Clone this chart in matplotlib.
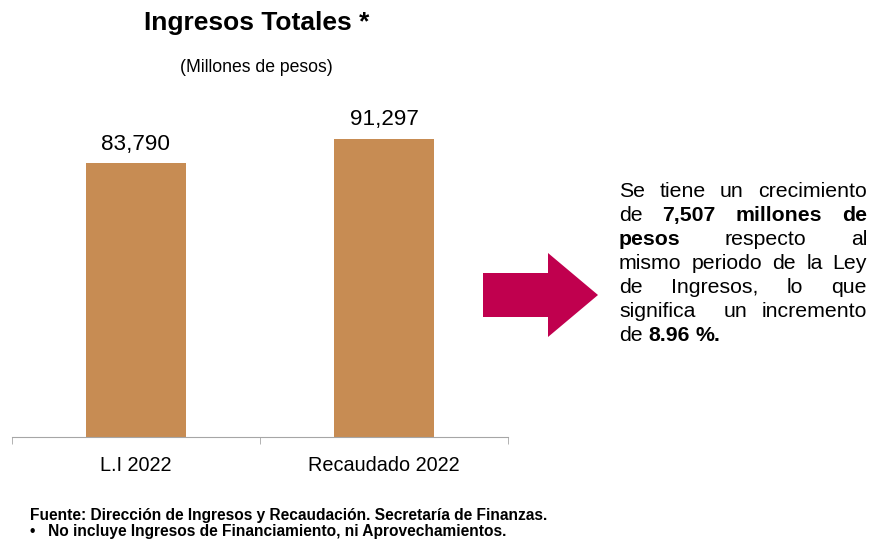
import matplotlib
matplotlib.use('Agg')
import matplotlib.pyplot as plt
from matplotlib.patches import Polygon

# datos
categorias = ['L.I 2022', 'Recaudado 2022']
valores = [83790, 91297]
etiquetas = ['83,790', '91,297']

titulo = 'Ingresos Totales *'
subtitulo = '(Millones de pesos)'
fuente = 'Fuente: Dirección de Ingresos y Recaudación. Secretaría de Finanzas.'
nota = '•   No incluye Ingresos de Financiamiento, ni Aprovechamientos.'

# texto de la derecha: (palabras, negrita)
lineas = [
    [('Se tiene un crecimiento', False)],
    [('de', False), ('7,507 millones de', True)],
    [('pesos', True), ('respecto al', False)],
    [('mismo periodo de la Ley', False)],
    [('de Ingresos, lo que', False)],
    [('significa  un incremento', False)],
    [('de', False), ('8.96 %.', True)],
]

plt.rcParams['font.family'] = ['Liberation Sans', 'DejaVu Sans']

W, H = 873, 541
fig = plt.figure(figsize=(W / 100, H / 100), dpi=100)


def fx(px):
    return px / W


def fy(py):
    return 1 - py / H


color_barra = '#C78C53'
color_flecha = '#C0004E'
color_eje = '#A6A6A6'

# ejes
ax = fig.add_axes([fx(12), fy(437), fx(508) - fx(12), fy(100) - fy(437)])
x = list(range(len(categorias)))
barras = ax.bar(x, valores, width=0.405, color=color_barra)
ax.set_xlim(-0.5, 1.5)
ax.set_ylim(0, 103150)
for b, t in zip(barras, etiquetas):
    ax.annotate(t, (b.get_x() + b.get_width() / 2, b.get_height()),
                xytext=(0, 6), textcoords='offset points',
                ha='center', va='bottom', fontsize=16.2)

for s in ['top', 'right', 'left']:
    ax.spines[s].set_visible(False)
ax.spines['bottom'].set_color(color_eje)
ax.set_yticks([])
ax.set_xticks(x)
ax.set_xticklabels(categorias, fontsize=14.3)
ax.tick_params(axis='x', which='major', length=0, pad=14)
ax.set_xticks([-0.5, 0.5, 1.5], minor=True)
ax.tick_params(axis='x', which='minor', length=5, color=color_eje, direction='out')

# titulos
fig.text(fx(257), fy(23), titulo, ha='center', va='center', fontsize=19, fontweight='bold')
fig.text(fx(256.5), fy(68), subtitulo, ha='center', va='center', fontsize=12.7)

# pie
fig.text(fx(30), fy(520), fuente, ha='left', va='baseline', fontsize=11.2, fontweight='bold')
fig.text(fx(30), fy(536), nota, ha='left', va='baseline', fontsize=11.2, fontweight='bold')

# flecha
flecha = [(483, 273), (548, 273), (548, 253), (598, 295), (548, 337), (548, 317), (483, 317)]
fig.patches.append(Polygon([(fx(a), fy(b)) for a, b in flecha], closed=True,
                           transform=fig.transFigure, facecolor=color_flecha,
                           edgecolor='none'))

# texto justificado
izq, der = 619, 867
base0, paso = 197, 24
tam = 15.3
r = fig.canvas.get_renderer()


def ancho(palabra, negrita):
    t = fig.text(0, 0, palabra, fontsize=tam, fontweight='bold' if negrita else 'normal')
    w = t.get_window_extent(renderer=r).width if palabra else 0
    t.remove()
    return w


esp = ancho('a a', False) - 2 * ancho('a', False)
for i, linea in enumerate(lineas):
    palabras = []
    for trozo, negrita in linea:
        for p in trozo.split(' '):
            palabras.append((p, negrita, ancho(p, negrita)))
    total = sum(p[2] for p in palabras)
    huecos = len(palabras) - 1
    if i == len(lineas) - 1 or huecos == 0:
        hueco = esp
    else:
        hueco = (der - izq - total) / huecos
    xp = izq
    yb = base0 + i * paso
    for p, negrita, w in palabras:
        if p:
            fig.text(fx(xp), fy(yb), p, ha='left', va='baseline', fontsize=tam,
                     fontweight='bold' if negrita else 'normal')
        xp += w + hueco

fig.savefig('out.png', dpi=100)
